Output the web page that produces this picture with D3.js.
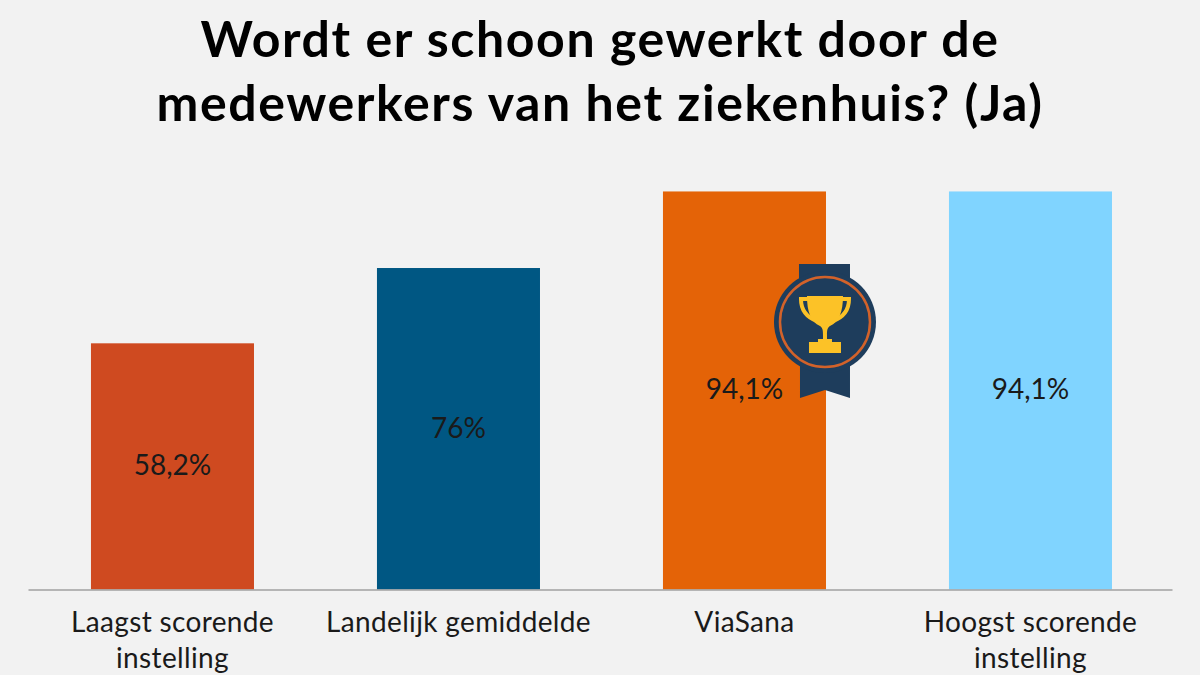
<!DOCTYPE html>
<html>
<head>
<meta charset="utf-8">
<script src="https://cdn.jsdelivr.net/npm/d3@7"></script>
<style>
  html, body { margin: 0; padding: 0; background: #f2f2f2; }
  svg { display: block; font-family: Lato, sans-serif; }
  .title { font-size: 50px; font-weight: 700; fill: #000; letter-spacing: 1.6px; }
  .value { font-size: 28px; fill: #1a1a1a; }
  .tick text { font-family: Lato, sans-serif; font-size: 28px; fill: #1a1a1a; letter-spacing: 0.35px; }
</style>
</head>
<body>
<svg id="chart" width="1200" height="675"></svg>
<script>
const titleLines = ['Wordt er schoon gewerkt door de', 'medewerkers van het ziekenhuis? (Ja)'];
const categories = ['Laagst scorende|instelling', 'Landelijk gemiddelde', 'ViaSana', 'Hoogst scorende|instelling'];
const values = [58.2, 76, 94.1, 94.1];
const valueLabels = ['58,2%', '76%', '94,1%', '94,1%'];
const colors = ['#cf4a20', '#005783', '#e46307', '#80d4ff'];
const winner = 'ViaSana';

const svg = d3.select('#chart');

const x = d3.scaleBand()
  .domain(categories)
  .range([28, 1172])
  .paddingInner(0.43)
  .paddingOuter(0.215)
  .align(0.512);

const y = d3.scaleLinear()
  .domain([0, 100])
  .range([589.5, 166.5]);

svg.selectAll('.title')
  .data(titleLines)
  .enter().append('text')
  .attr('class', 'title')
  .attr('x', 600)
  .attr('y', (d, i) => 57 + i * 64)
  .attr('text-anchor', 'middle')
  .text(d => d);

svg.selectAll('.bar')
  .data(categories)
  .enter().append('rect')
  .attr('class', 'bar')
  .attr('x', d => x(d))
  .attr('width', x.bandwidth())
  .attr('y', (d, i) => y(values[i]))
  .attr('height', (d, i) => y(0) - y(values[i]))
  .attr('fill', (d, i) => colors[i]);

svg.selectAll('.value')
  .data(categories)
  .enter().append('text')
  .attr('class', 'value')
  .attr('x', d => x(d) + x.bandwidth() / 2)
  .attr('y', (d, i) => (y(values[i]) + y(0)) / 2 - 1)
  .attr('dy', '0.35em')
  .attr('text-anchor', 'middle')
  .text((d, i) => valueLabels[i]);

// x axis, labels split over two lines on the |
const axis = svg.append('g')
  .attr('transform', `translate(0,${y(0)})`)
  .call(d3.axisBottom(x).tickSize(0).tickPadding(0).tickFormat(''));

axis.select('.domain').attr('stroke', '#a0a0a0').attr('stroke-width', 1.5);

axis.selectAll('.tick text').each(function (d) {
  let text = d3.select(this).attr('y', 0).attr('dy', null);
  d.split('|').forEach((line, i) => {
    text.append('tspan')
      .attr('x', 0)
      .attr('y', 42 + i * 36)
      .text(line);
  });
});

// medal sits on the right edge of the winning bar
const drawMedal = (cx, cy) => {
  let medal = svg.append('g').attr('transform', `translate(${cx},${cy})`);
  medal.append('path')
    .attr('d', 'M-26,-58 H25 V-30 H-26 Z M-25,30 H25 V76 L0,68 L-25,76 Z')
    .attr('fill', '#1e3d5c');
  medal.append('circle').attr('r', 51).attr('fill', '#1e3d5c');
  medal.append('circle').attr('r', 45).attr('fill', 'none').attr('stroke', '#d2622a').attr('stroke-width', 2.5);
  // trophy: handles, then bowl, stem and base
  medal.append('path')
    .attr('d', 'M-17,-23 H-24 C-24,-12 -19,-5 -8,-1 M17,-23 H24 C24,-12 19,-5 8,-1')
    .attr('fill', 'none')
    .attr('stroke', '#fcc227')
    .attr('stroke-width', 4);
  medal.append('path')
    .attr('d', 'M-18,-26 H18 C18,-10 14,0 5,4 C2,6 2,9 2,13 V17 H7 V20 H16 V31 H-16 V20 H-7 V17 H-2 V13 C-2,9 -2,6 -5,4 C-14,0 -18,-10 -18,-26 Z')
    .attr('fill', '#fcc227');
};

drawMedal(x(winner) + x.bandwidth() - 1, 322);
</script>
</body>
</html>
